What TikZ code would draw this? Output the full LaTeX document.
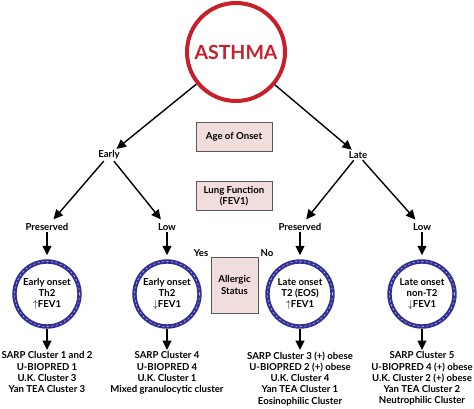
\documentclass[tikz,border=0pt]{standalone}
\usepackage{fontspec}
\setmainfont{Lato}
\usepackage{tikz}
\usetikzlibrary{arrows.meta}
\definecolor{asthmared}{RGB}{200,32,42}
\definecolor{ropeblue}{RGB}{50,48,148}
\definecolor{boxpink}{RGB}{242,221,221}
\tikzset{
  >=latex,
  lbl/.style={font=\fontsize{9.6}{11.2}\selectfont\bfseries,inner sep=1.5pt,align=center},
  crit/.style={lbl,draw=black!65,fill=boxpink,thick,minimum width=76pt,minimum height=29pt},
  pheno/.style={lbl,circle,draw=ropeblue,line width=4.4pt,minimum size=65pt,
                postaction={draw=ropeblue!30,line width=0.6pt,dash pattern=on 2pt off 2.5pt}},
  arr/.style={-{Triangle[length=9.5pt,width=9pt]},line width=1.4pt}
}
\begin{document}
\begin{tikzpicture}[x=1pt,y=-1pt]
  \useasboundingbox (0,0) rectangle (474,409);
  % Root node
  \node[circle,draw=asthmared,line width=4pt,minimum size=98pt,text=asthmared,
        font=\fontsize{19.5}{20}\selectfont\bfseries] (asthma) at (236,52) {ASTHMA};
  % Criteria boxes
  \node[crit] (onset) at (234,137) {Age of Onset};
  \node[crit] (lung) at (234,196) {Lung Function\\(FEV1)};
  \node[crit,minimum width=47pt,minimum height=56pt] (allergic) at (234.5,285) {Allergic\\Status};
  \node[lbl] (yes) at (201,253) {Yes};
  \node[lbl] (no) at (267,253) {No};
  % First split
  \node[lbl] (early) at (109,155) {Early};
  \node[lbl] (late) at (358,155) {Late};
  \draw[arr] (asthma) -- (early);
  \draw[arr] (asthma) -- (late);
  % Phenotypes, one column each
  \foreach \xc/\lab/\ctxt/\btxt [count=\i] in {
    47/Preserved/{Early onset\\Th2\\$\uparrow$FEV1}/{SARP Cluster 1 and 2\\U-BIOPRED 1\\U.K. Cluster 3\\Yan TEA Cluster 3},
    167/Low/{Early onset\\Th2\\$\downarrow$FEV1}/{SARP Cluster 4\\U-BIOPRED 4\\U.K. Cluster 1\\Mixed granulocytic cluster},
    300/Preserved/{Late onset\\T2 (EOS)\\$\uparrow$FEV1}/{SARP Cluster 3 (+) obese\\U-BIOPRED 2 (+) obese\\U.K. Cluster 4\\Yan TEA Cluster 1\\Eosinophilic Cluster},
    422/Low/{Late onset\\non-T2\\$\downarrow$FEV1}/{SARP Cluster 5\\U-BIOPRED 4 (+) obese\\U.K. Cluster 2 (+) obese\\Yan TEA Cluster 2\\Neutrophilic Cluster}}{%
    \node[lbl] (fev\i) at (\xc,227) {\lab};
    \node[pheno] (ph\i) at (\xc,294) {\ctxt};
    \node[lbl,anchor=north] (cl\i) at (\xc,350) {\btxt};
    \draw[arr,shorten >=4pt] (fev\i) -- (ph\i);
    \draw[arr] (ph\i) -- (cl\i);
  }
  % Second split
  \draw[arr,shorten >=3pt] (early) -- (fev1);
  \draw[arr,shorten >=3pt] (early) -- (fev2);
  \draw[arr,shorten >=3pt] (late) -- (fev3);
  \draw[arr,shorten >=3pt] (late) -- (fev4);
\end{tikzpicture}
\end{document}
